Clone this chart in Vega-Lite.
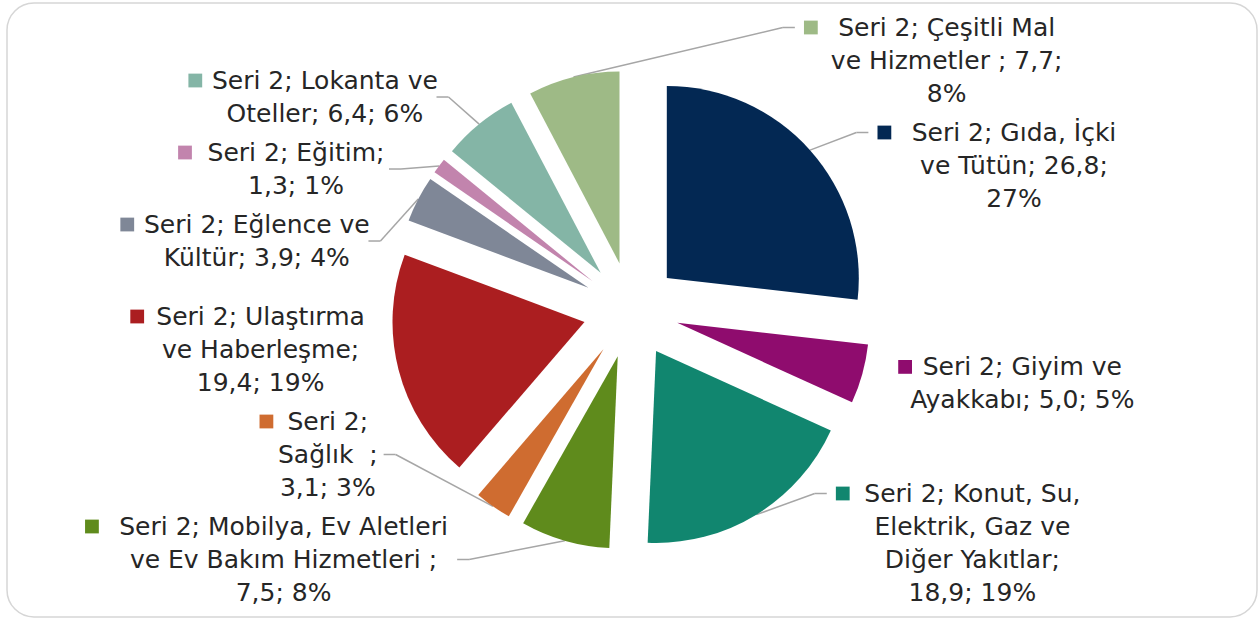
{
  "$schema": "https://vega.github.io/schema/vega-lite/v6.json",
  "width": 1250,
  "height": 614,
  "padding": {"left": 7, "top": 3, "right": 3, "bottom": 2},
  "background": "white",
  "config": {
    "view": {"stroke": "#d6d6d6", "strokeWidth": 1.5, "cornerRadius": 27},
    "font": "DejaVu Sans"
  },
  "data": {
    "values": [
      {"sira": 1, "kategori": "Gıda, İçki ve Tütün", "deger": 26.8, "etiket": "Seri 2; Gıda, İçki\nve Tütün; 26,8;\n27%"},
      {"sira": 2, "kategori": "Giyim ve Ayakkabı", "deger": 5.0, "etiket": "Seri 2; Giyim ve\nAyakkabı; 5,0; 5%"},
      {"sira": 3, "kategori": "Konut, Su, Elektrik, Gaz ve Diğer Yakıtlar", "deger": 18.9, "etiket": "Seri 2; Konut, Su,\nElektrik, Gaz ve\nDiğer Yakıtlar;\n18,9; 19%"},
      {"sira": 4, "kategori": "Mobilya, Ev Aletleri ve Ev Bakım Hizmetleri", "deger": 7.5, "etiket": "Seri 2; Mobilya, Ev Aletleri\nve Ev Bakım Hizmetleri ;\n7,5; 8%"},
      {"sira": 5, "kategori": "Sağlık", "deger": 3.1, "etiket": "Seri 2;\nSağlık\u00a0 ;\n3,1; 3%"},
      {"sira": 6, "kategori": "Ulaştırma ve Haberleşme", "deger": 19.4, "etiket": "Seri 2; Ulaştırma\nve Haberleşme;\n19,4; 19%"},
      {"sira": 7, "kategori": "Eğlence ve Kültür", "deger": 3.9, "etiket": "Seri 2; Eğlence ve\nKültür; 3,9; 4%"},
      {"sira": 8, "kategori": "Eğitim", "deger": 1.3, "etiket": "Seri 2; Eğitim;\n1,3; 1%"},
      {"sira": 9, "kategori": "Lokanta ve Oteller", "deger": 6.4, "etiket": "Seri 2; Lokanta ve\nOteller; 6,4; 6%"},
      {"sira": 10, "kategori": "Çeşitli Mal ve Hizmetler", "deger": 7.7, "etiket": "Seri 2; Çeşitli Mal\nve Hizmetler ; 7,7;\n8%"}
    ]
  },
  "transform": [
    {"window": [{"op": "sum", "field": "deger", "as": "bitis"}], "sort": [{"field": "sira"}], "frame": [null, 0]},
    {"joinaggregate": [{"op": "sum", "field": "deger", "as": "toplam"}]},
    {"calculate": "datum.bitis - datum.deger", "as": "baslangic"},
    {"calculate": "2 * PI * (datum.baslangic + datum.deger / 2) / datum.toplam", "as": "aci"},
    {"calculate": "sin(datum.aci)", "as": "ux"},
    {"calculate": "-cos(datum.aci)", "as": "uy"},
    {"calculate": "48 * datum.ux", "as": "ex"},
    {"calculate": "48 * datum.uy", "as": "ey"},
    {"calculate": "240 * datum.ux", "as": "px"},
    {"calculate": "240 * datum.uy", "as": "py"},
    {"calculate": "(datum.ux >= 0 || datum.uy < -0.9) ? 'sag' : 'sol'", "as": "taraf"},
    {"calculate": "split(datum.etiket, '\\n')", "as": "satirlar"},
    {"calculate": "length(datum.satirlar)", "as": "n"},
    {"calculate": "datum.n * 33 + 6", "as": "h"},
    {"calculate": "275 * datum.uy", "as": "tercih"},
    {"window": [{"op": "sum", "field": "h", "as": "kum"}], "groupby": ["taraf"], "sort": [{"field": "tercih"}], "frame": [null, 0]},
    {"joinaggregate": [{"op": "sum", "field": "h", "as": "T"}], "groupby": ["taraf"]},
    {"calculate": "datum.kum - datum.h / 2", "as": "Q"},
    {"calculate": "datum.tercih - datum.Q", "as": "a"},
    {"window": [{"op": "max", "field": "a", "as": "m1"}], "groupby": ["taraf"], "sort": [{"field": "tercih"}], "frame": [null, 0]},
    {"calculate": "max(datum.m1, -302)", "as": "M1"},
    {"window": [{"op": "min", "field": "M1", "as": "m2"}], "groupby": ["taraf"], "sort": [{"field": "tercih"}], "frame": [0, null]},
    {"calculate": "min(datum.m2, 302 - datum.T)", "as": "M2"},
    {"calculate": "datum.Q + datum.M2", "as": "cy"},
    {"calculate": "max(0, abs(datum.cy) - datum.n * 33 / 2)", "as": "dy"},
    {"calculate": "sqrt(max(0, 265 * 265 - datum.dy * datum.dy))", "as": "kx"},
    {"calculate": "12.4 * max(length(datum.satirlar[0]), length(datum.satirlar[1] || ''), length(datum.satirlar[2] || ''), length(datum.satirlar[3] || ''))", "as": "W"},
    {"calculate": "datum.taraf == 'sag' ? datum.kx + 24 + datum.W / 2 : -datum.kx - datum.W / 2", "as": "cx"},
    {"calculate": "datum.cx - 12.4 * length(datum.satirlar[0]) / 2 - 18", "as": "kx0"},
    {"calculate": "datum.cy - (datum.n - 1) * 33 / 2", "as": "ky0"},
    {"calculate": "datum.taraf == 'sag' ? datum.kx0 - 16 : -datum.kx", "as": "lx"},
    {"calculate": "datum.taraf == 'sag' ? datum.ky0 : datum.cy", "as": "ly"},
    {"calculate": "datum.lx + (datum.taraf == 'sag' ? -12 : 12)", "as": "bx"},
    {"calculate": "sqrt(pow(datum.lx - datum.px, 2) + pow(datum.ly - datum.py, 2))", "as": "llen"}
  ],
  "encoding": {
    "color": {
      "field": "kategori",
      "type": "nominal",
      "legend": null,
      "scale": {
        "domain": ["Gıda, İçki ve Tütün", "Giyim ve Ayakkabı", "Konut, Su, Elektrik, Gaz ve Diğer Yakıtlar", "Mobilya, Ev Aletleri ve Ev Bakım Hizmetleri", "Sağlık", "Ulaştırma ve Haberleşme", "Eğlence ve Kültür", "Eğitim", "Lokanta ve Oteller", "Çeşitli Mal ve Hizmetler"],
        "range": ["#032853", "#8f0c6e", "#11866f", "#5f8b1c", "#cf6c30", "#ab1e20", "#7f8797", "#c284ad", "#84b5a6", "#9eba86"]
      }
    }
  },
  "layer": [
    {
      "transform": [{"filter": "datum.llen > 42"}],
      "mark": {"type": "rule", "color": "#a6a6a6", "strokeWidth": 1.5},
      "encoding": {
        "x": {"field": "px", "type": "quantitative", "stack": null, "scale": {"domain": [-624, 626], "nice": false, "zero": false}, "axis": null},
        "y": {"field": "py", "type": "quantitative", "stack": null, "scale": {"domain": [-307, 307], "nice": false, "zero": false, "reverse": true}, "axis": null},
        "x2": {"field": "bx"},
        "y2": {"field": "ly"},
        "color": {"value": "#a6a6a6"}
      }
    },
    {
      "transform": [{"filter": "datum.llen > 42"}],
      "mark": {"type": "rule", "color": "#a6a6a6", "strokeWidth": 1.5},
      "encoding": {
        "x": {"field": "bx", "type": "quantitative", "stack": null},
        "y": {"field": "ly", "type": "quantitative", "stack": null},
        "x2": {"field": "lx"},
        "y2": {"field": "ly"},
        "color": {"value": "#a6a6a6"}
      }
    },
    {
      "mark": {"type": "arc", "radius": 192, "stroke": null},
      "encoding": {
        "x": {"field": "ex", "type": "quantitative", "stack": null},
        "y": {"field": "ey", "type": "quantitative", "stack": null},
        "theta": {"field": "baslangic", "type": "quantitative", "stack": null, "scale": {"domain": [0, 100], "range": [0, 6.283185307179586]}},
        "theta2": {"field": "bitis"}
      }
    },
    {
      "mark": {"type": "square", "size": 190, "opacity": 1},
      "encoding": {
        "x": {"field": "kx0", "type": "quantitative", "stack": null},
        "y": {"field": "ky0", "type": "quantitative", "stack": null}
      }
    },
    {
      "mark": {"type": "text", "lineBreak": "\n", "font": "DejaVu Sans", "fontSize": 25, "lineHeight": 33, "align": "center", "baseline": "middle", "color": "#262626"},
      "encoding": {
        "x": {"field": "cx", "type": "quantitative", "stack": null},
        "y": {"field": "ky0", "type": "quantitative", "stack": null},
        "text": {"field": "etiket"},
        "color": {"value": "#262626"}
      }
    }
  ]
}
